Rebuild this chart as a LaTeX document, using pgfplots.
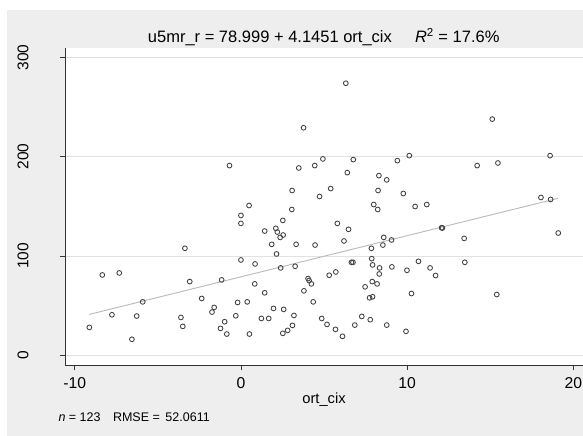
\documentclass[border=0pt]{standalone}
\usepackage{fontspec}
\setmainfont{Liberation Sans}
\usepackage{pgfplots}
\pgfplotsset{compat=1.18}
\definecolor{bg}{RGB}{238,238,238}
\definecolor{gridc}{RGB}{226,226,226}
\definecolor{mk}{RGB}{65,65,65}
\definecolor{fitc}{RGB}{185,185,185}
\begin{document}
\begin{tikzpicture}[x=1bp,y=1bp]
\useasboundingbox (0,0) rectangle (583,436);
\clip (0,0) rectangle (583,436);
\fill[bg] (7,0) rectangle (583,426);
\begin{axis}[
  at={(65.3bp,71bp)}, anchor=south west,
  scale only axis, width=517.7bp, height=317.3bp,
  xmin=-10.566, xmax=20.58, ymin=-9.77, ymax=309.7,
  axis x line*=bottom, axis y line*=left,
  axis line style={black!80, line width=0.8bp, -},
  axis background/.style={fill=white},
  xtick={-10,0,10,20}, ytick={0,100,200,300},
  tick align=outside, major tick length=5.5bp,
  tick style={black!80, line width=0.6bp},
  ymajorgrids, grid style={gridc, line width=0.9bp},
  /pgf/number format/assume math mode=true,
  xticklabel style={font=\fontsize{15.7bp}{18bp}\selectfont, anchor=north, inner sep=0pt},
  xticklabel shift=6.8bp,
  yticklabel style={font=\fontsize{15.5bp}{18bp}\selectfont, rotate=90, anchor=base, inner sep=0pt},
  yticklabel shift=31.3bp,
  clip=false,
]
\addplot[fitc, line width=0.9bp] coordinates {(-9.12,41.2) (19.09,158.1)};
\addplot[only marks, mark=o, mark size=2.4bp, mark options={mk, line width=0.85bp}] coordinates {
(6.31,273.9) (3.77,229.1) (15.12,237.8) (10.13,201.0) (18.60,201.0) (4.93,197.7)
(6.76,197.0) (9.41,196.0) (-0.69,191.0) (4.44,191.0) (3.48,188.6) (14.21,191.0)
(15.46,193.6) (6.40,183.9) (8.30,180.9) (8.77,176.6) (3.08,165.9) (5.40,167.9)
(8.25,165.9) (9.77,162.9) (4.73,159.9) (18.05,158.9) (18.63,156.9) (0.49,150.8)
(7.99,151.8) (11.18,151.8) (10.48,149.8) (3.06,146.8) (8.23,146.8) (0.00,140.8)
(0.00,132.8) (2.52,135.8) (5.80,132.8) (2.10,127.8) (6.47,126.8) (1.43,125.1)
(2.19,124.1) (12.07,128.4) (12.12,128.2) (19.09,123.1) (2.54,121.1) (2.36,118.7)
(8.59,118.7) (9.06,116.1) (13.43,117.7) (6.20,115.1) (1.85,111.7) (3.32,111.7)
(4.46,111.0) (8.54,111.0) (-3.37,107.7) (7.85,107.7) (2.14,102.0) (0.00,96.0)
(7.87,97.3) (6.65,93.6) (6.74,93.6) (13.47,93.6) (10.68,94.6) (0.85,92.0)
(7.92,91.0) (3.26,89.6) (9.08,89.0) (2.39,88.0) (8.34,88.0) (11.38,88.0)
(9.99,85.6) (8.32,81.9) (5.71,83.9) (5.31,80.6) (11.71,80.3) (-8.34,80.9)
(-7.32,82.9) (4.04,77.3) (4.10,75.3) (-1.16,75.9) (-3.08,74.2) (4.24,71.9)
(7.90,74.2) (8.19,71.9) (0.83,71.9) (7.47,68.9) (3.79,64.9) (1.43,62.9)
(10.26,62.2) (15.39,61.2) (7.74,57.9) (7.92,58.9) (-2.36,57.2) (-5.91,53.8)
(-0.20,53.2) (0.38,53.8) (4.35,53.8) (-1.61,48.2) (-1.74,43.5) (1.96,47.2)
(2.57,46.2) (-7.76,40.8) (-6.27,39.5) (-0.31,39.8) (3.19,40.1) (7.27,39.1)
(-3.61,38.1) (1.23,37.1) (1.67,37.1) (4.86,37.1) (7.78,35.8) (-0.98,33.8)
(-9.12,28.1) (-3.50,29.1) (5.18,31.1) (3.10,30.1) (6.85,30.4) (8.77,30.4)
(-1.23,27.1) (5.69,26.1) (2.81,25.1) (9.93,24.1) (2.52,22.1) (-0.85,21.4)
(0.51,21.4) (6.11,19.1) (-6.56,16.1)
};
\end{axis}
\node[anchor=base, inner sep=0pt, font=\fontsize{16.5bp}{19bp}\selectfont] at (323.7,393.5)
  {u5mr\_r = 78.999 + 4.1451 ort\_cix\hspace{1.4em}\textit{R}\textsuperscript{2} = 17.6\%};
\node[anchor=base, inner sep=0pt, font=\fontsize{14.7bp}{17bp}\selectfont] at (324,32.7) {ort\_cix};
\node[anchor=base west, inner sep=0pt, font=\fontsize{12.5bp}{15bp}\selectfont] at (58.3,14.3)
  {\textit{n} = 123\hspace{1em}RMSE = \,52.0611};
\end{tikzpicture}
\end{document}
